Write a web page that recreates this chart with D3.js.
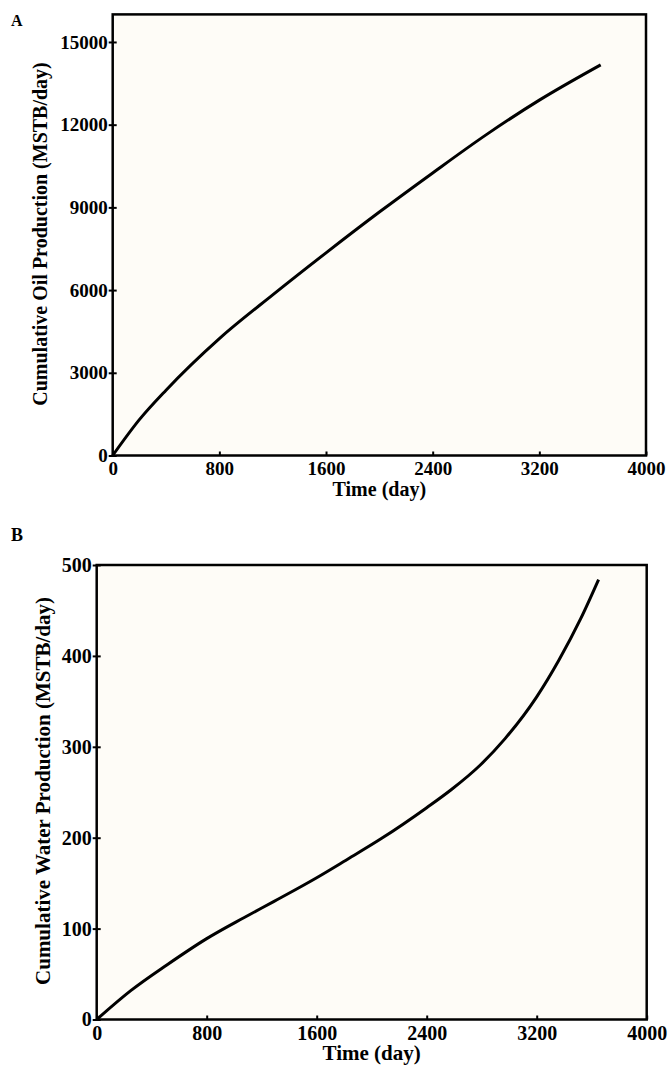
<!DOCTYPE html>
<html>
<head>
<meta charset="utf-8">
<script src="https://cdn.jsdelivr.net/npm/d3@7"></script>
<style>
  body { margin: 0; background: #fff; }
  text { font-family: "Liberation Serif", "Times New Roman", serif; font-weight: bold; fill: #000; }
</style>
</head>
<body>
<div id="chart"></div>
<script>
// x ticks shared by both panels
var timeTicks = [0, 800, 1600, 2400, 3200, 4000];

// Panel A: cumulative oil production
var oilTime = [0, 200, 400, 800, 1200, 1600, 2000, 2400, 2800, 3200, 3660];
var oilCum  = [0, 1300, 2370, 4240, 5825, 7350, 8830, 10250, 11630, 12890, 14170];
var oilTicks = [0, 3000, 6000, 9000, 12000, 15000];

// Panel B: cumulative water production
var waterTime = [0, 250, 510, 800, 1070, 1290, 1600, 1810, 2070, 2400, 2580, 2790, 2970, 3200, 3360, 3520, 3650];
var waterCum  = [0, 32, 60, 89, 112, 130, 156, 175, 199, 233, 253, 280, 309, 355, 395, 441, 484];
var waterTicks = [0, 100, 200, 300, 400, 500];

var svg = d3.select("#chart")
  .append("svg")
  .attr("width", 670)
  .attr("height", 1068);

function drawPanel(p) {
  var x = d3.scaleLinear().domain([0, 4000]).range([p.left, p.right]);
  var y = d3.scaleLinear().domain([0, p.yMax]).range([p.bottom, p.top]);

  var g = svg.append("g");

  // plot background
  g.append("rect")
    .attr("x", p.left)
    .attr("y", p.top)
    .attr("width", p.right - p.left)
    .attr("height", p.bottom - p.top)
    .attr("fill", "#fefcf7");

  // axes, x ticks point inward, y ticks cross the frame
  var xAxis = g.append("g")
    .attr("transform", `translate(0, ${p.bottom})`)
    .call(d3.axisBottom(x).tickValues(timeTicks).tickFormat(d3.format("d"))
      .tickSizeInner(-4).tickSizeOuter(0).tickPadding(6));

  var yAxis = g.append("g")
    .attr("transform", `translate(${p.left}, 0)`)
    .call(d3.axisLeft(y).tickValues(p.yTicks).tickFormat(d3.format("d"))
      .tickSizeInner(-4).tickSizeOuter(0).tickPadding(5));

  [xAxis, yAxis].forEach(function(a) {
    a.select(".domain").remove();
    a.selectAll(".tick line").attr("stroke", "#000").attr("stroke-width", 2);
    a.selectAll(".tick text").attr("font-size", p.tickSize + "px").attr("font-family", null);
  });
  yAxis.selectAll(".tick line").attr("x1", -4);

  // curve
  var line = d3.line()
    .x(d => x(d[0]))
    .y(d => y(d[1]))
    .curve(d3.curveMonotoneX);

  g.append("path")
    .datum(d3.zip(p.tData, p.vData))
    .attr("d", line)
    .attr("fill", "none")
    .attr("stroke", "#000")
    .attr("stroke-width", 3);

  // frame
  g.append("rect")
    .attr("x", p.left)
    .attr("y", p.top)
    .attr("width", p.right - p.left)
    .attr("height", p.bottom - p.top)
    .attr("fill", "none")
    .attr("stroke", "#000")
    .attr("stroke-width", 2.5);

  // axis labels
  g.append("text")
    .attr("x", (p.left + p.right) / 2)
    .attr("y", p.bottom + p.xTitleDy)
    .attr("text-anchor", "middle")
    .attr("font-size", p.titleSize + "px")
    .text("Time (day)");

  g.append("text")
    .attr("transform", `translate(${p.titleX}, ${p.titleY}) rotate(-90)`)
    .attr("text-anchor", "middle")
    .attr("font-size", p.titleSize + "px")
    .text(p.yTitle);

  // panel letter
  g.append("text")
    .attr("x", 11)
    .attr("y", p.letterY)
    .attr("font-size", p.letterSize + "px")
    .text(p.letter);
}

drawPanel({
  letter: "A", letterY: 26, letterSize: 16,
  left: 112.7, right: 646, top: 14.4, bottom: 455.5,
  yMax: 16000, yTicks: oilTicks,
  tData: oilTime, vData: oilCum,
  tickSize: 19, titleSize: 20, xTitleDy: 40,
  titleX: 47, titleY: 234, yTitle: "Cumulative Oil Production (MSTB/day)"
});

drawPanel({
  letter: "B", letterY: 541, letterSize: 18,
  left: 96.7, right: 646.7, top: 565, bottom: 1019.5,
  yMax: 500, yTicks: waterTicks,
  tData: waterTime, vData: waterCum,
  tickSize: 20, titleSize: 21, xTitleDy: 40,
  titleX: 50, titleY: 791, yTitle: "Cumulative Water Production (MSTB/day)"
});
</script>
</body>
</html>
